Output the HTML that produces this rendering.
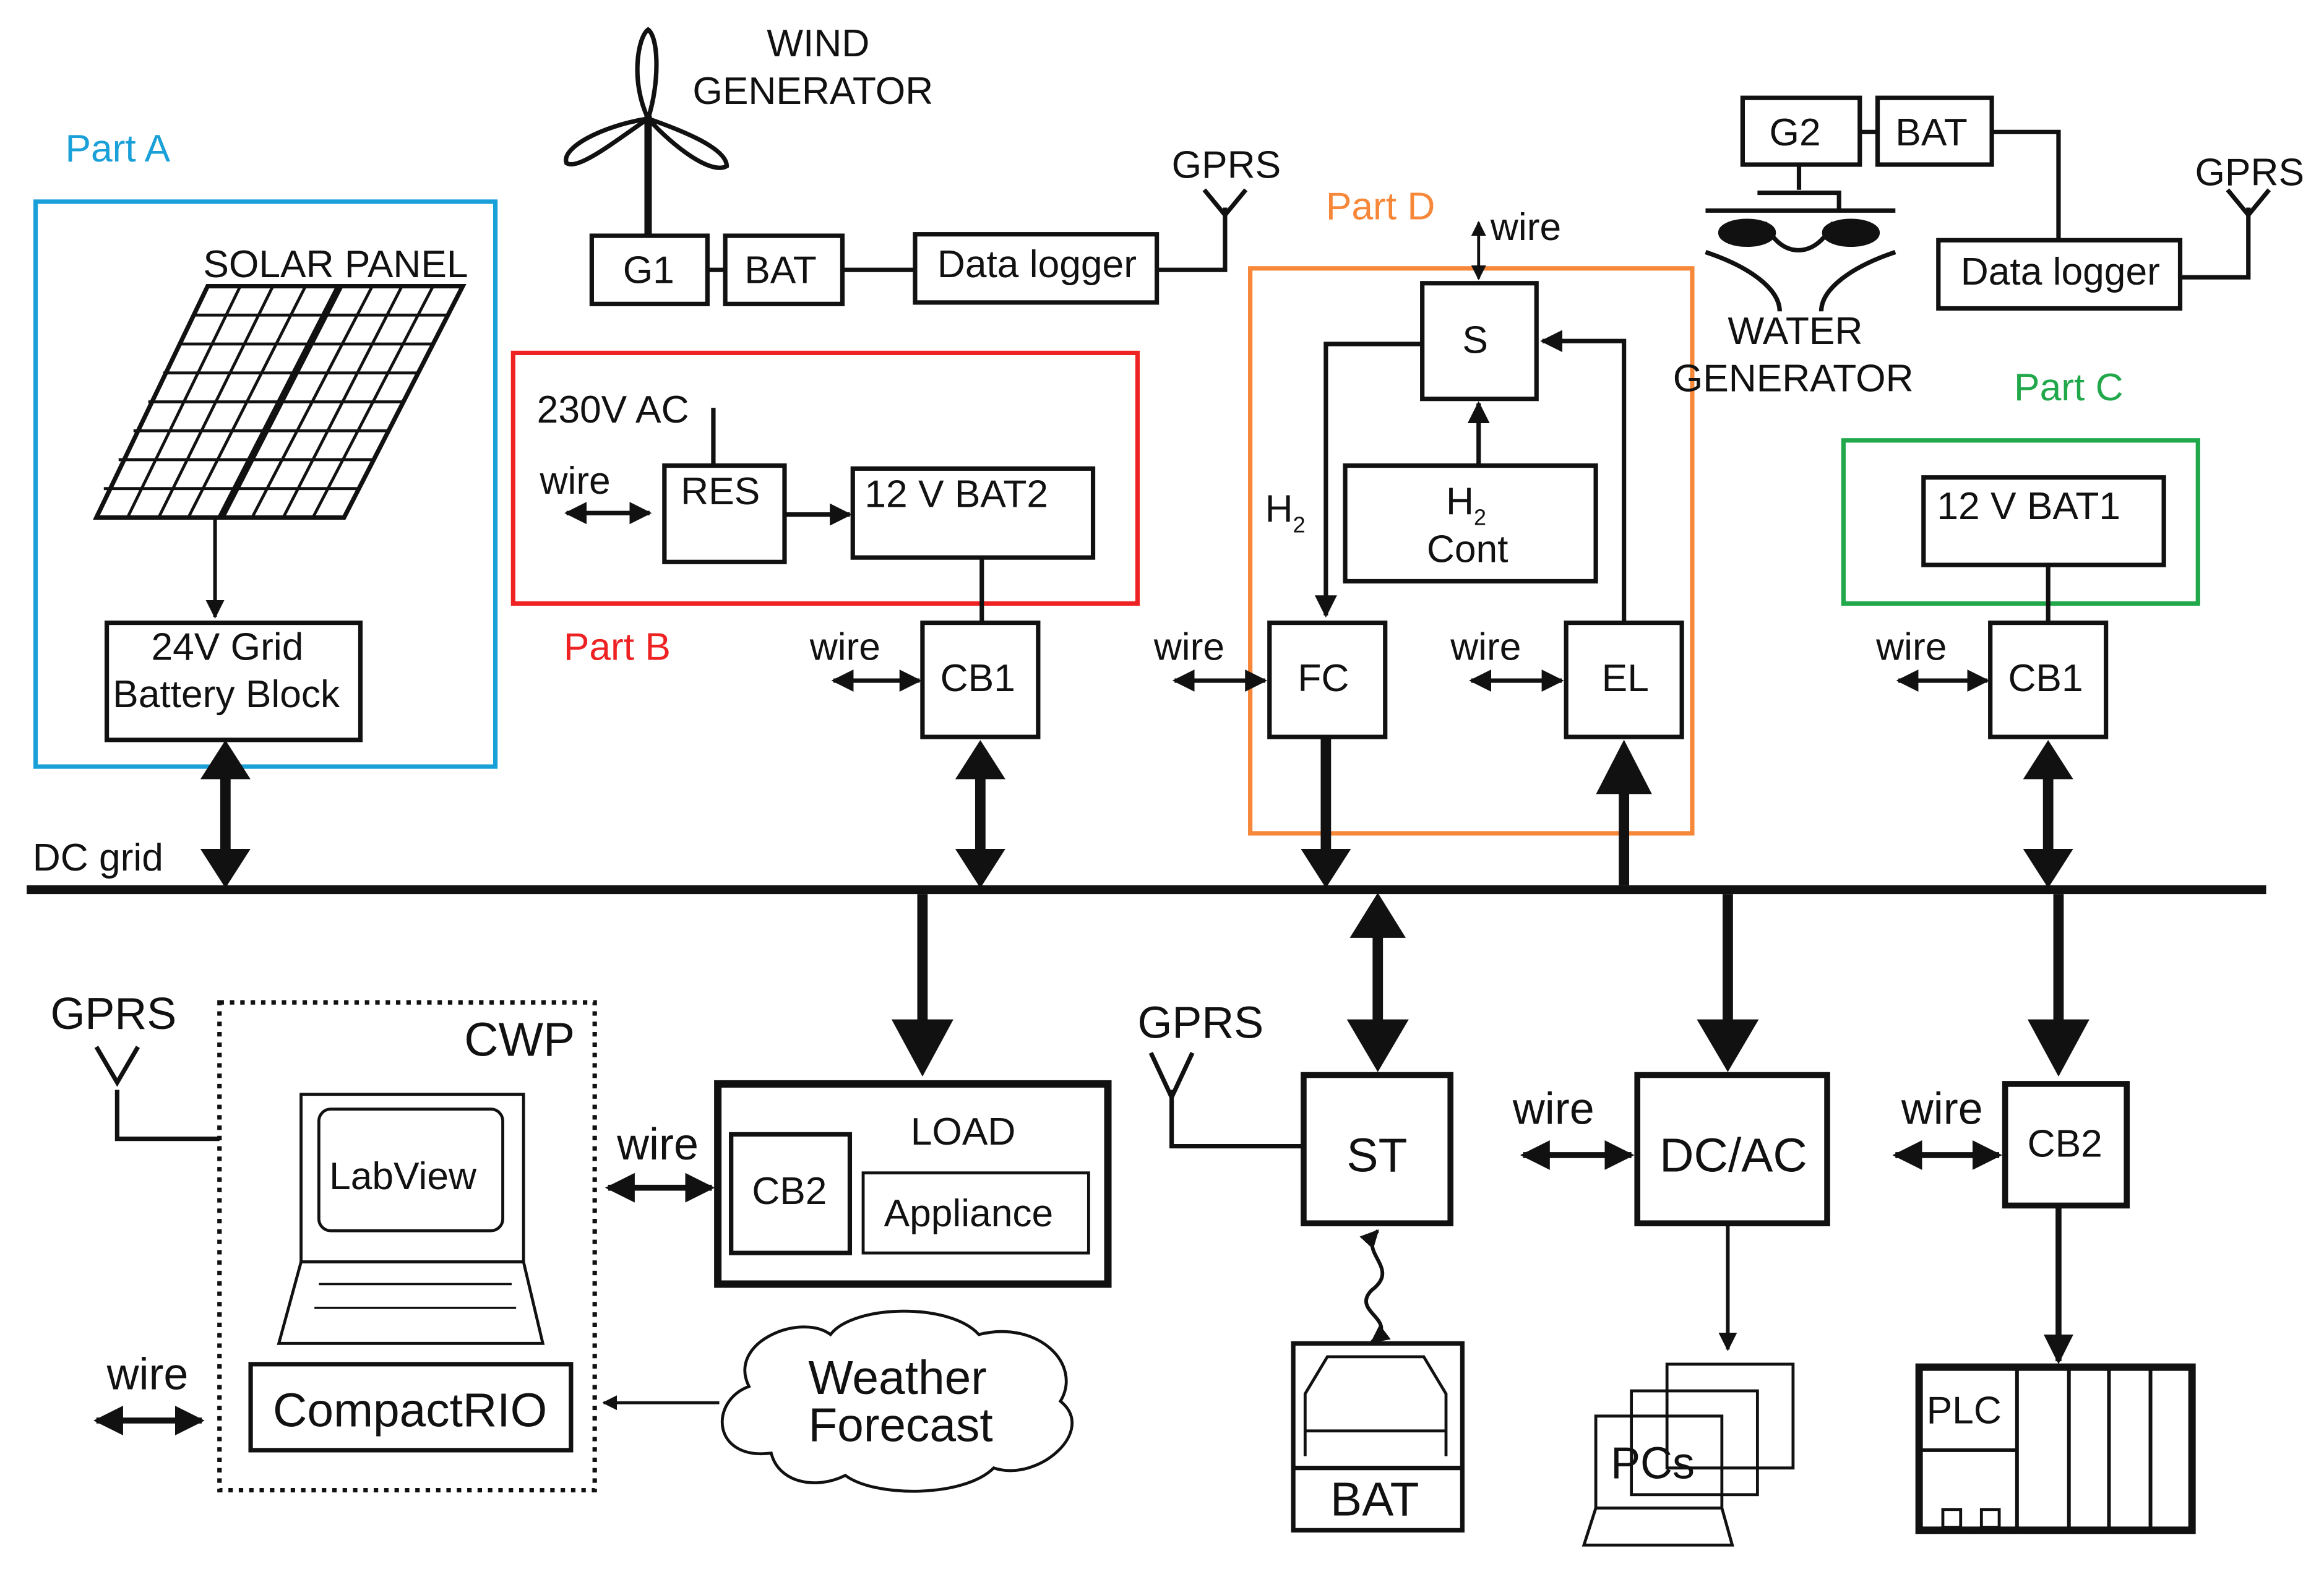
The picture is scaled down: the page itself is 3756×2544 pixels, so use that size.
<!DOCTYPE html>
<html><head><meta charset="utf-8"><style>
html,body{margin:0;padding:0;background:#fff;}
svg{display:block;}
text{font-family:"Liberation Sans",Arial,sans-serif;font-size:26px;fill:#111;}
</style></head><body>
<svg width="3756" height="2544" viewBox="0 0 1567 1061.5" preserveAspectRatio="none" xmlns="http://www.w3.org/2000/svg">
<defs>
<marker id="a" viewBox="0 0 10 10" refX="9" refY="5" markerWidth="5" markerHeight="5" orient="auto-start-reverse"><path d="M0,0L10,5L0,10z" fill="#111"/></marker>
<marker id="b" viewBox="0 0 10 10" refX="9" refY="5" markerWidth="5" markerHeight="5" orient="auto-start-reverse"><path d="M0,0L10,5L0,10z" fill="#111"/></marker>
</defs>
<g fill="none" stroke="#111" stroke-width="3">
<rect x="24" y="136" width="310" height="381" stroke="#1aa0d8"/>
<path d="M140,193L228,193L148,349L65,349Z M230,193L312,193L232,349L150,349Z" stroke-width="3"/>
<path d="M130,212.5h89 M120,232h89 M110,251.5h89 M100,271h89 M90,290.5h89 M80,310h89 M70,329.5h89" stroke-width="2"/>
<path d="M221,212.5h81 M211,232h81 M201,251.5h81 M191,271h81 M181,290.5h81 M171,310h81 M161,329.5h81" stroke-width="2"/>
<path d="M162,193L86,349 M184,193L107,349 M206,193L127,349 M251,193L170,349 M271,193L191,349 M292,193L211,349" stroke-width="2"/>
<line x1="145" y1="349" x2="145" y2="416" stroke-width="2.5" marker-end="url(#a)"/>
<rect x="72" y="420" width="171" height="79"/>
<line x1="18" y1="600" x2="1528" y2="600" stroke-width="6"/>
<line x1="437" y1="78" x2="437" y2="159" stroke-width="5"/>
<path d="M437,80 C425,55 430,25 437,20 C444,25 445,55 437,80 Z M437,80 C415,95 390,115 382,110 C378,100 405,85 437,80 Z M437,80 C460,88 490,100 490,112 C480,118 455,100 437,80Z" stroke-width="3"/>
<rect x="399" y="159" width="78" height="46"/>
<rect x="489" y="159" width="79" height="46"/>
<rect x="617" y="158" width="163" height="46"/>
<path d="M477,182H489 M568,182H617 M780,182H826V140 M812,128L826,145L840,128"/>
<rect x="346" y="238" width="421" height="169" stroke="#ee2222"/>
<line x1="481" y1="275" x2="481" y2="314"/>
<rect x="448" y="314" width="81" height="65"/>
<line x1="382" y1="346" x2="438" y2="346" marker-start="url(#a)" marker-end="url(#a)"/>
<line x1="529" y1="347" x2="573" y2="347" marker-end="url(#a)"/>
<rect x="575" y="316" width="162" height="60"/>
<line x1="662" y1="376" x2="662" y2="420"/>
<rect x="622" y="420" width="78" height="77"/>
<line x1="562" y1="459" x2="620" y2="459" marker-start="url(#a)" marker-end="url(#a)"/>
<rect x="843" y="181" width="298" height="381" stroke="#f7883a"/>
<rect x="959" y="191" width="77" height="78"/>
<line x1="997" y1="150" x2="997" y2="188" stroke-width="2" marker-start="url(#a)" marker-end="url(#a)"/>
<rect x="907" y="314" width="169" height="78"/>
<line x1="997" y1="314" x2="997" y2="272" marker-end="url(#a)"/>
<path d="M959,232H894V415" marker-end="url(#a)"/>
<path d="M1095,420V230H1040" marker-end="url(#a)"/>
<rect x="856" y="420" width="78" height="77"/>
<rect x="1056" y="420" width="78" height="77"/>
<line x1="792" y1="459" x2="853" y2="459" marker-start="url(#a)" marker-end="url(#a)"/>
<line x1="992" y1="459" x2="1053" y2="459" marker-start="url(#a)" marker-end="url(#a)"/>
<rect x="1175" y="66" width="79" height="45"/>
<rect x="1266" y="66" width="77" height="45"/>
<path d="M1254,89H1266 M1343,89H1388V162 M1470,187H1516V140 M1502,128L1516,145L1530,128"/>
<rect x="1307" y="162" width="163" height="46"/>
<path d="M1213,111V128 M1150,142H1278 M1185,130H1240V142 M1150,170C1180,180 1200,195 1200,210 M1278,170C1248,180 1228,195 1228,210 M1190,150C1200,175 1225,175 1236,150" stroke-width="3"/>
<ellipse cx="1178" cy="157" rx="18" ry="8" fill="#111"/>
<ellipse cx="1248" cy="157" rx="18" ry="8" fill="#111"/>
<rect x="1243" y="297" width="239" height="110" stroke="#21a84a"/>
<rect x="1297" y="322" width="162" height="59"/>
<line x1="1381" y1="381" x2="1381" y2="420"/>
<rect x="1342" y="420" width="78" height="77"/>
<line x1="1280" y1="459" x2="1340" y2="459" marker-start="url(#a)" marker-end="url(#a)"/>
<rect x="484" y="731" width="263" height="135" stroke-width="5"/>
<rect x="493" y="765" width="80" height="80"/>
<rect x="582" y="791" width="152" height="54" stroke-width="2"/>
<line x1="410" y1="801" x2="480" y2="801" stroke-width="4" marker-start="url(#b)" marker-end="url(#b)"/>
<rect x="148" y="676" width="253" height="329" stroke-dasharray="3,4"/>
<path d="M79,735V768H148 M65,706L79,730L93,706"/>
<rect x="203" y="738" width="150" height="113" stroke-width="2"/>
<rect x="215" y="748" width="124" height="82" rx="8" stroke-width="2"/>
<path d="M203,851L188,906H366L353,851Z" stroke-width="2"/>
<path d="M215,866h130 M212,882h136" stroke-width="1.5"/>
<rect x="169" y="920" width="216" height="58"/>
<line x1="65" y1="958" x2="136" y2="958" stroke-width="4" marker-start="url(#b)" marker-end="url(#b)"/>
<path d="M520,980C480,985 478,945 505,935C490,905 540,885 560,900C575,880 640,878 660,900C700,890 730,920 715,945C740,965 700,1000 670,990C650,1010 590,1010 570,995C550,1005 525,1000 520,980Z" stroke-width="2"/>
<line x1="485" y1="946" x2="407" y2="946" stroke-width="2" marker-end="url(#a)"/>
<rect x="879" y="725" width="99" height="100" stroke-width="4"/>
<path d="M790,735V773H879 M776,710L790,740L804,710"/>
<path d="M929,830C915,845 945,855 925,870C910,885 945,890 925,905" stroke-width="2.5" marker-start="url(#a)" marker-end="url(#a)"/>
<rect x="872" y="906" width="114" height="126"/>
<line x1="872" y1="990" x2="986" y2="990"/>
<path d="M880,965V940L895,915H960L975,940V965Z M880,965H975V982 M880,965V982" stroke-width="2"/>
<rect x="1104" y="725" width="128" height="100" stroke-width="4"/>
<line x1="1027" y1="779" x2="1100" y2="779" stroke-width="4" marker-start="url(#b)" marker-end="url(#b)"/>
<line x1="1165" y1="825" x2="1165" y2="910" stroke-width="2.5" marker-end="url(#a)"/>
<rect x="1124" y="920" width="85" height="70" stroke-width="2"/>
<rect x="1100" y="938" width="85" height="70" stroke-width="2"/>
<rect x="1076" y="955" width="85" height="62" stroke-width="2"/>
<path d="M1076,1017L1068,1042H1168L1161,1017" stroke-width="2"/>
<rect x="1352" y="731" width="82" height="82" stroke-width="4"/>
<line x1="1278" y1="779" x2="1348" y2="779" stroke-width="4" marker-start="url(#b)" marker-end="url(#b)"/>
<line x1="1388" y1="813" x2="1388" y2="918" stroke-width="4" marker-end="url(#b)"/>
<rect x="1294" y="922" width="184" height="110" stroke-width="5"/>
<path d="M1360,922V1032 M1395,922V1032 M1422,922V1032 M1450,922V1032 M1294,978H1360" stroke-width="2.5"/>
<rect x="1310" y="1018" width="12" height="12" stroke-width="2"/>
<rect x="1336" y="1018" width="12" height="12" stroke-width="2"/>
</g>
<g fill="#111" stroke="#111">
<line x1="152" y1="525" x2="152" y2="573" stroke-width="7"/>
<path d="M136,525L152,500L168,525Z M136,573L152,598L168,573Z"/>
<line x1="661" y1="525" x2="661" y2="573" stroke-width="7"/>
<path d="M645,525L661,500L677,525Z M645,573L661,598L677,573Z"/>
<line x1="894" y1="497" x2="894" y2="573" stroke-width="7"/>
<path d="M878,573L894,598L910,573Z"/>
<line x1="1095" y1="597" x2="1095" y2="530" stroke-width="7"/>
<path d="M1077,535L1095,500L1113,535Z"/>
<line x1="1381" y1="525" x2="1381" y2="573" stroke-width="7"/>
<path d="M1365,525L1381,500L1397,525Z M1365,573L1381,598L1397,573Z"/>
<line x1="622" y1="603" x2="622" y2="690" stroke-width="7"/>
<path d="M602,688L622,725L642,688Z"/>
<line x1="929" y1="630" x2="929" y2="690" stroke-width="7"/>
<path d="M911,632L929,603L947,632Z M909,688L929,722L949,688Z"/>
<line x1="1165" y1="603" x2="1165" y2="690" stroke-width="7"/>
<path d="M1145,688L1165,722L1185,688Z"/>
<line x1="1388" y1="603" x2="1388" y2="690" stroke-width="7"/>
<path d="M1368,688L1388,725L1408,688Z"/>
</g>
<text x="44" y="109" style="fill:#1aa0d8">Part A</text>
<text x="137" y="187">SOLAR PANEL</text>
<text x="102" y="445">24V Grid</text>
<text x="76" y="477">Battery Block</text>
<text x="22" y="587">DC grid</text>
<text x="517" y="38">WIND</text>
<text x="467" y="70">GENERATOR</text>
<text x="420" y="191">G1</text>
<text x="502" y="191">BAT</text>
<text x="632" y="187">Data logger</text>
<text x="790" y="120">GPRS</text>
<text x="362" y="285">230V AC</text>
<text x="364" y="333">wire</text>
<text x="459" y="340">RES</text>
<text x="583" y="342">12 V BAT2</text>
<text x="380" y="445" style="fill:#ee2222">Part B</text>
<text x="546" y="445">wire</text>
<text x="634" y="466">CB1</text>
<text x="894" y="148" style="fill:#f7883a">Part D</text>
<text x="1005" y="162">wire</text>
<text x="986" y="238">S</text>
<text x="975" y="347">H<tspan font-size="15" dy="7">2</tspan></text>
<text x="962" y="379">Cont</text>
<text x="853" y="352">H<tspan font-size="15" dy="7">2</tspan></text>
<text x="778" y="445">wire</text>
<text x="978" y="445">wire</text>
<text x="875" y="466">FC</text>
<text x="1080" y="466">EL</text>
<text x="1193" y="98">G2</text>
<text x="1278" y="98">BAT</text>
<text x="1322" y="192">Data logger</text>
<text x="1480" y="125">GPRS</text>
<text x="1165" y="232">WATER</text>
<text x="1128" y="264">GENERATOR</text>
<text x="1358" y="270" style="fill:#21a84a">Part C</text>
<text x="1306" y="350">12 V BAT1</text>
<text x="1265" y="445">wire</text>
<text x="1354" y="466">CB1</text>
<text x="34" y="694" style="font-size:30px">GPRS</text>
<text x="313" y="712" style="font-size:32px">CWP</text>
<text x="222" y="802">LabView</text>
<text x="184" y="962" style="font-size:32px">CompactRIO</text>
<text x="72" y="937" style="font-size:30px">wire</text>
<text x="416" y="782" style="font-size:30px">wire</text>
<text x="614" y="772">LOAD</text>
<text x="507" y="812">CB2</text>
<text x="596" y="827">Appliance</text>
<text x="545" y="940" style="font-size:32px">Weather</text>
<text x="545" y="972" style="font-size:32px">Forecast</text>
<text x="767" y="700" style="font-size:30px">GPRS</text>
<text x="908" y="790" style="font-size:32px">ST</text>
<text x="897" y="1022" style="font-size:32px">BAT</text>
<text x="1020" y="758" style="font-size:30px">wire</text>
<text x="1119" y="790" style="font-size:32px">DC/AC</text>
<text x="1086" y="997" style="font-size:30px">PCs</text>
<text x="1282" y="758" style="font-size:30px">wire</text>
<text x="1367" y="780">CB2</text>
<text x="1299" y="960">PLC</text>
</svg>
</body></html>
